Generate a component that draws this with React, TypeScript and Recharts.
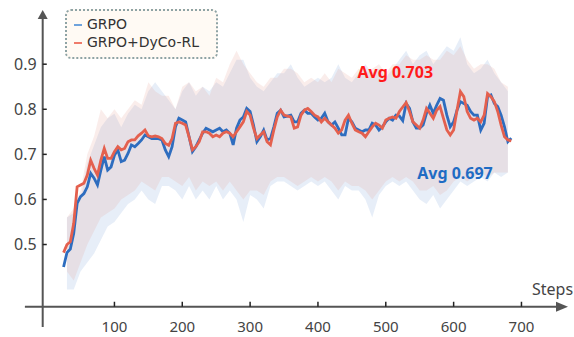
import {
  ComposedChart,
  Line,
  Area,
  XAxis,
  YAxis,
  ReferenceLine,
  ReferenceDot,
} from "recharts";

const FONT = "'Noto Sans', 'DejaVu Sans', sans-serif";
const LEGEND_FONT = "'DejaVu Sans', sans-serif";

// smoothed reward curves, one point every 5 steps starting at step 25
const grpo = [
  0.45, 0.482, 0.49, 0.525, 0.591, 0.606, 0.613, 0.628, 0.658, 0.647, 0.632,
  0.665, 0.695, 0.665, 0.672, 0.698, 0.71, 0.684, 0.687, 0.702, 0.721, 0.717,
  0.724, 0.732, 0.743, 0.739, 0.735, 0.735, 0.735, 0.732, 0.71, 0.695, 0.717,
  0.761, 0.78, 0.776, 0.772, 0.739, 0.706, 0.717, 0.732, 0.747, 0.758, 0.754,
  0.75, 0.754, 0.758, 0.75, 0.754, 0.747, 0.721, 0.758, 0.776, 0.783, 0.802,
  0.795, 0.765, 0.728, 0.739, 0.754, 0.732, 0.735, 0.761, 0.791, 0.798, 0.783,
  0.785, 0.787, 0.772, 0.772, 0.791, 0.798, 0.791, 0.791, 0.783, 0.776, 0.78,
  0.791, 0.772, 0.765, 0.772, 0.758, 0.743, 0.743, 0.78, 0.772, 0.758, 0.754,
  0.75, 0.754, 0.754, 0.769, 0.765, 0.754, 0.761, 0.772, 0.78, 0.776, 0.787,
  0.785, 0.775, 0.813, 0.802, 0.772, 0.758, 0.758, 0.765, 0.791, 0.809, 0.791,
  0.809, 0.824, 0.82, 0.787, 0.761, 0.772, 0.798, 0.817, 0.813, 0.809, 0.795,
  0.787, 0.787, 0.754, 0.769, 0.828, 0.832, 0.813, 0.806, 0.787, 0.761, 0.728,
  0.736,
];

const dyco = [
  0.482, 0.5, 0.506, 0.547, 0.628, 0.632, 0.636, 0.654, 0.687, 0.669, 0.654,
  0.687, 0.713, 0.691, 0.691, 0.706, 0.717, 0.71, 0.713, 0.728, 0.732, 0.732,
  0.741, 0.747, 0.754, 0.741, 0.739, 0.741, 0.739, 0.735, 0.724, 0.72, 0.735,
  0.769, 0.772, 0.769, 0.765, 0.739, 0.71, 0.717, 0.728, 0.75, 0.75, 0.747,
  0.739, 0.743, 0.739, 0.747, 0.75, 0.747, 0.739, 0.75, 0.761, 0.772, 0.795,
  0.787, 0.758, 0.735, 0.743, 0.75, 0.728, 0.721, 0.754, 0.783, 0.798, 0.787,
  0.785, 0.783, 0.758, 0.761, 0.787, 0.798, 0.802, 0.795, 0.787, 0.783, 0.772,
  0.78, 0.772, 0.765, 0.758, 0.747, 0.754, 0.776, 0.787, 0.769, 0.754, 0.75,
  0.747, 0.739, 0.75, 0.761, 0.769, 0.765, 0.758, 0.776, 0.78, 0.783, 0.78,
  0.795, 0.805, 0.815, 0.795, 0.772, 0.765, 0.758, 0.776, 0.802, 0.791, 0.78,
  0.798, 0.806, 0.78, 0.754, 0.743, 0.754, 0.798, 0.839, 0.828, 0.795, 0.78,
  0.776, 0.78, 0.772, 0.787, 0.835, 0.828, 0.817, 0.795, 0.765, 0.739, 0.732,
  0.73,
];

// spread of the raw (unsmoothed) curves, every 10 steps from step 30
const grpoHigh = [
  0.56, 0.57, 0.6, 0.68, 0.72, 0.76, 0.78, 0.79, 0.76, 0.79, 0.81, 0.8, 0.84,
  0.86, 0.84, 0.82, 0.8, 0.84, 0.86, 0.83, 0.85, 0.84, 0.86, 0.85, 0.88, 0.91,
  0.91, 0.87, 0.85, 0.84, 0.86, 0.88, 0.88, 0.9, 0.87, 0.85, 0.86, 0.87, 0.86,
  0.87, 0.9, 0.87, 0.86, 0.88, 0.9, 0.88, 0.89, 0.87, 0.89, 0.91, 0.93, 0.9,
  0.92, 0.93, 0.9, 0.92, 0.94, 0.93, 0.96, 0.9, 0.88, 0.89, 0.91, 0.88, 0.86,
  0.84,
];
const grpoLow = [
  0.4, 0.4, 0.44, 0.46, 0.48, 0.51, 0.54, 0.55, 0.57, 0.59, 0.6, 0.62, 0.6,
  0.59, 0.63, 0.63, 0.62, 0.6, 0.63, 0.6, 0.62, 0.6, 0.63, 0.6, 0.62, 0.6,
  0.55, 0.61, 0.6, 0.58, 0.63, 0.64, 0.64, 0.63, 0.62, 0.63, 0.64, 0.63, 0.64,
  0.62, 0.6, 0.63, 0.62, 0.62, 0.6, 0.56, 0.61, 0.63, 0.64, 0.63, 0.64, 0.62,
  0.6, 0.59, 0.61, 0.58, 0.6, 0.62, 0.64, 0.63, 0.64, 0.65, 0.64, 0.66, 0.65,
  0.66,
];
const dycoHigh = [
  0.56, 0.58, 0.62, 0.7, 0.74, 0.8, 0.78, 0.8, 0.78, 0.8, 0.82, 0.81, 0.86,
  0.84, 0.83, 0.83, 0.8, 0.85, 0.86, 0.84, 0.85, 0.83, 0.87, 0.86, 0.9, 0.93,
  0.9, 0.88, 0.86, 0.85, 0.87, 0.87, 0.89, 0.89, 0.88, 0.86, 0.87, 0.86, 0.88,
  0.86, 0.89, 0.88, 0.87, 0.89, 0.88, 0.89, 0.9, 0.88, 0.9, 0.9, 0.92, 0.91,
  0.91, 0.92, 0.91, 0.91, 0.93, 0.92, 0.94, 0.91, 0.89, 0.9, 0.9, 0.89, 0.86,
  0.85,
];
const dycoLow = [
  0.44, 0.42, 0.46, 0.5, 0.53, 0.56, 0.57, 0.58, 0.6, 0.61, 0.62, 0.64, 0.63,
  0.62, 0.65, 0.65, 0.64, 0.63, 0.65, 0.62, 0.64, 0.63, 0.64, 0.62, 0.64, 0.62,
  0.6, 0.62, 0.62, 0.61, 0.64, 0.65, 0.65, 0.64, 0.63, 0.64, 0.65, 0.64, 0.65,
  0.64, 0.62, 0.64, 0.63, 0.63, 0.62, 0.6, 0.62, 0.64, 0.65, 0.64, 0.65, 0.64,
  0.62, 0.62, 0.63, 0.61, 0.62, 0.64, 0.65, 0.64, 0.65, 0.66, 0.65, 0.66, 0.66,
  0.66,
];

const lineSteps = grpo.map((_, i) => 25 + 5 * i);
const bandSteps = grpoHigh.map((_, i) => 30 + 10 * i);

const xTicks = [100, 200, 300, 400, 500, 600, 700];
const yTicks = [0.5, 0.6, 0.7, 0.8, 0.9];

const X_MIN = -5.75;
const X_MAX = 768.6;
const Y_MIN = 0.317;
const Y_MAX = 1.03;
const AXIS_Y = 0.362;

const AXIS = "#555555";
const BLUE = "#2e6dbf";
const RED = "#e4604e";

const data = lineSteps.map((step, i) => {
  const j = bandSteps.indexOf(step);
  return {
    step,
    grpo: grpo[i],
    dyco: dyco[i],
    grpoBand: j >= 0 ? [grpoLow[j], grpoHigh[j]] : undefined,
    dycoBand: j >= 0 ? [dycoLow[j], dycoHigh[j]] : undefined,
  };
});

const XTick = ({ x, y, payload }: any) => (
  <text
    x={x}
    y={y + 5}
    textAnchor="middle"
    fill="#444"
    fontSize={15}
    fontFamily={FONT}
  >
    {payload.value}
  </text>
);

const UpArrow = ({ cx, cy }: any) => (
  <polygon
    points={`${cx},${cy} ${cx - 5},${cy + 9} ${cx + 5},${cy + 9}`}
    fill={AXIS}
  />
);

const RightArrow = ({ cx, cy }: any) => (
  <polygon
    points={`${cx},${cy} ${cx - 12},${cy - 5} ${cx - 12},${cy + 5}`}
    fill={AXIS}
  />
);

const note = (text: string, color: string) => ({ cx, cy }: any) => (
  <text
    x={cx}
    y={cy}
    dy={6}
    textAnchor="middle"
    fill={color}
    fontSize={16}
    fontWeight="bold"
    fontFamily={FONT}
  >
    {text}
  </text>
);

const Legend = () => (
  <div
    style={{
      position: "absolute",
      left: 65,
      top: 9,
      width: 153,
      height: 50,
      boxSizing: "border-box",
      border: "2px dotted #8ea3a5",
      borderRadius: 6,
      background: "#fffaf4",
      fontFamily: LEGEND_FONT,
      fontSize: 14,
      color: "#333",
    }}
  >
    {[
      { label: "GRPO", color: "#6fa3dc", top: 13.5 },
      { label: "GRPO+DyCo-RL", color: "#ef7b6b", top: 31.5 },
    ].map((item) => (
      <div key={item.label}>
        <div
          style={{
            position: "absolute",
            left: 7,
            top: item.top - 1,
            width: 8,
            height: 2,
            background: item.color,
          }}
        />
        <div
          style={{
            position: "absolute",
            left: 20,
            top: item.top - 8.5,
            lineHeight: "17px",
            whiteSpace: "nowrap",
          }}
        >
          {item.label}
        </div>
      </div>
    ))}
  </div>
);

export default function App() {
  return (
    <div
      style={{
        position: "absolute",
        left: 0,
        top: 0,
        width: 574,
        height: 337,
        background: "#fff",
      }}
    >
      <ComposedChart
        width={574}
        height={337}
        data={data}
        margin={{ top: 5.6, right: 6, bottom: 0, left: 0 }}
      >
        <XAxis
          dataKey="step"
          type="number"
          domain={[X_MIN, X_MAX]}
          allowDataOverflow
          ticks={xTicks}
          height={10}
          axisLine={false}
          tickLine={false}
          tickSize={0}
          tickMargin={0}
          tick={<XTick />}
        />
        <YAxis
          type="number"
          domain={[Y_MIN, Y_MAX]}
          allowDataOverflow
          ticks={yTicks}
          width={42.7}
          axisLine={false}
          tickLine={false}
          tickSize={0}
          tickMargin={6}
          tickFormatter={(v: number) => v.toFixed(1)}
          tick={{ fill: "#444", fontSize: 16, fontFamily: FONT }}
        />
        <Area
          dataKey="grpoBand"
          type="linear"
          stroke="none"
          fill="#86acdc"
          fillOpacity={0.2}
          connectNulls
          isAnimationActive={false}
        />
        <Area
          dataKey="dycoBand"
          type="linear"
          stroke="none"
          fill="#e39a90"
          fillOpacity={0.18}
          connectNulls
          isAnimationActive={false}
        />
        <Line
          dataKey="grpo"
          type="linear"
          stroke={BLUE}
          strokeWidth={2.8}
          dot={false}
          isAnimationActive={false}
        />
        <Line
          dataKey="dyco"
          type="linear"
          stroke={RED}
          strokeWidth={2.8}
          dot={false}
          isAnimationActive={false}
        />
        <ReferenceLine
          segment={[
            { x: -32, y: AXIS_Y },
            { x: 752, y: AXIS_Y },
          ]}
          stroke={AXIS}
          strokeWidth={2}
          ifOverflow="visible"
        />
        <ReferenceLine
          segment={[
            { x: X_MIN, y: Y_MIN },
            { x: X_MIN, y: 1.0 },
          ]}
          stroke={AXIS}
          strokeWidth={2}
          ifOverflow="visible"
        />
        {xTicks.map((t) => (
          <ReferenceLine
            key={`xt${t}`}
            segment={[
              { x: t, y: AXIS_Y },
              { x: t, y: AXIS_Y + 0.011 },
            ]}
            stroke="#222"
            strokeWidth={1.5}
            ifOverflow="visible"
          />
        ))}
        {yTicks.map((t) => (
          <ReferenceLine
            key={`yt${t}`}
            segment={[
              { x: X_MIN, y: t },
              { x: X_MIN + 6, y: t },
            ]}
            stroke="#222"
            strokeWidth={1.5}
            ifOverflow="visible"
          />
        ))}
        <ReferenceDot
          x={X_MIN}
          y={1.02}
          r={0}
          ifOverflow="visible"
          shape={<UpArrow />}
        />
        <ReferenceDot
          x={X_MAX}
          y={AXIS_Y}
          r={0}
          ifOverflow="visible"
          shape={<RightArrow />}
        />
        <ReferenceDot
          x={514}
          y={0.883}
          r={0}
          ifOverflow="visible"
          shape={note("Avg 0.703", "#ff1a1a")}
        />
        <ReferenceDot
          x={602}
          y={0.659}
          r={0}
          ifOverflow="visible"
          shape={note("Avg 0.697", "#1f6cc4")}
        />
      </ComposedChart>
      <Legend />
      <div
        style={{
          position: "absolute",
          left: 532,
          top: 279,
          fontFamily: FONT,
          fontSize: 16,
          color: "#444",
          lineHeight: "20px",
        }}
      >
        Steps
      </div>
    </div>
  );
}
